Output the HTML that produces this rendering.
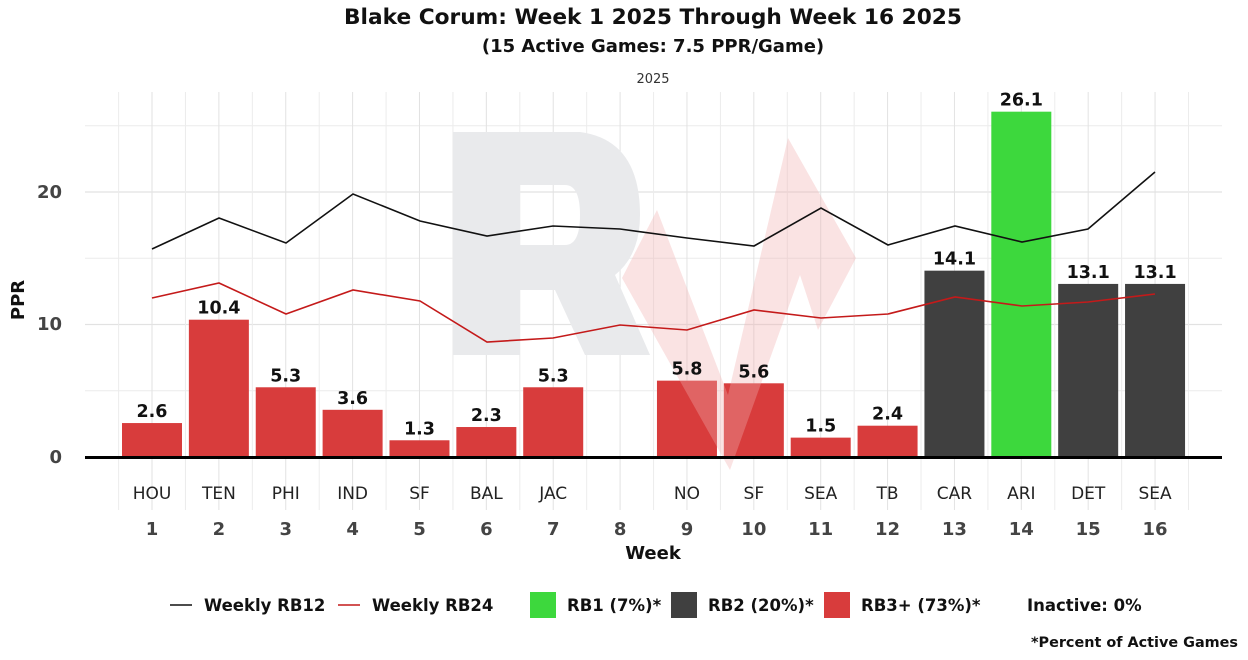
<!DOCTYPE html>
<html><head><meta charset="utf-8"><style>body{margin:0;background:#fff}svg{display:block}text{font-family:"DejaVu Sans","Liberation Sans",sans-serif}</style></head><body>
<svg width="1248" height="660" xmlns="http://www.w3.org/2000/svg">
<rect width="1248" height="660" fill="#fff"/>
<text x="653" y="24" text-anchor="middle" font-size="21.7" font-weight="bold" fill="#111">Blake Corum: Week 1 2025 Through Week 16 2025</text>
<text x="653" y="52" text-anchor="middle" font-size="18" font-weight="bold" fill="#111">(15 Active Games: 7.5 PPR/Game)</text>
<text x="653" y="83" text-anchor="middle" font-size="13" fill="#333">2025</text>
<g stroke="#ececec" stroke-width="1">
<line x1="85" x2="1222" y1="390.75" y2="390.75"/><line x1="85" x2="1222" y1="258.25" y2="258.25"/><line x1="85" x2="1222" y1="125.75" y2="125.75"/>
</g>
<g stroke="#e2e2e2" stroke-width="1.2">
<line x1="85" x2="1222" y1="324.5" y2="324.5"/><line x1="85" x2="1222" y1="192" y2="192"/>
</g>
<g id="vg" stroke="#ececec" stroke-width="1"></g>
<path d="M453,132 H580 Q640,140 640,215 Q640,255 615,275 L650,355 H585 L555,290 H520 V355 H453 Z M520,185 V245 H565 Q580,245 580,215 Q580,185 565,185 Z" fill="#e9eaec" fill-rule="evenodd"/>
<g id="bars"></g>
<polygon points="622,278 657,210 728,395 788,138 856,258 818,330 800,275 730,470" fill="#f2b0b0" opacity="0.35"/>
<g id="lbl"></g>
<polyline fill="none" stroke="#111" stroke-width="1.6" points="152,249 219,218 286,243 353,194 420,221 487,236 553,226 620,229 687,238 754,246 821,208 888,245 955,226 1022,242 1088,229 1155,172"/>
<polyline fill="none" stroke="#c41a1a" stroke-width="1.6" points="152,298 219,283 286,314 353,290 420,301 487,342 553,338 620,325 687,330 754,310 821,318 888,314 955,297 1022,306 1088,302 1155,294"/>
<line x1="85" x2="1222" y1="457.5" y2="457.5" stroke="#000" stroke-width="3"/>
<g font-size="18" font-weight="bold" fill="#444" text-anchor="end">
<text x="62" y="463">0</text><text x="62" y="330">10</text><text x="62" y="198">20</text></g>
<text transform="translate(24,300) rotate(-90)" text-anchor="middle" font-size="18" font-weight="bold" fill="#111">PPR</text>
<text x="653" y="559" text-anchor="middle" font-size="18" font-weight="bold" fill="#111">Week</text>
<g id="xl"></g>
<line x1="170" x2="192" y1="605" y2="605" stroke="#111" stroke-width="1.6"/>
<text x="204" y="611" font-size="16.5" font-weight="bold" fill="#111">Weekly RB12</text>
<line x1="338" x2="360" y1="605" y2="605" stroke="#c41a1a" stroke-width="1.6"/>
<text x="372" y="611" font-size="16.5" font-weight="bold" fill="#111">Weekly RB24</text>
<rect x="530" y="592" width="26" height="26" fill="#3dd83d"/>
<text x="567" y="611" font-size="16.5" font-weight="bold" fill="#111">RB1 (7%)*</text>
<rect x="671" y="592" width="26" height="26" fill="#404040"/>
<text x="708" y="611" font-size="16.5" font-weight="bold" fill="#111">RB2 (20%)*</text>
<rect x="824" y="592" width="26" height="26" fill="#d83c3c"/>
<text x="861" y="611" font-size="16.5" font-weight="bold" fill="#111">RB3+ (73%)*</text>
<text x="1027" y="611" font-size="16.5" font-weight="bold" fill="#111">Inactive: 0%</text>
<text x="1238" y="647" text-anchor="end" font-size="14.4" font-weight="bold" fill="#111">*Percent of Active Games</text>
</svg>
<script>
var ns="http://www.w3.org/2000/svg";
function el(p,t,a,txt){var e=document.createElementNS(ns,t);for(var k in a)e.setAttribute(k,a[k]);if(txt!==undefined)e.textContent=txt;document.getElementById(p).appendChild(e);}
var X=function(w){return 152+(w-1)*66.87;};
for(var i=0;i<=16;i++){var x=X(i+1)-33.4;el("vg","line",{x1:x,x2:x,y1:92,y2:510});}
for(var i=1;i<=16;i++){el("vg","line",{x1:X(i),x2:X(i),y1:92,y2:510,stroke:"#e2e2e2"});}
var v=[2.6,10.4,5.3,3.6,1.3,2.3,5.3,null,5.8,5.6,1.5,2.4,14.1,26.1,13.1,13.1];
var t=["HOU","TEN","PHI","IND","SF","BAL","JAC","","NO","SF","SEA","TB","CAR","ARI","DET","SEA"];
for(var i=0;i<16;i++){var w=i+1,x=X(w);
 if(v[i]!==null){var h=v[i]*13.25,c=w==14?"#3dd83d":(w>=13?"#404040":"#d83c3c");
  el("bars","rect",{x:x-30,y:457.5-h,width:60,height:h,fill:c});
  el("lbl","text",{x:x,y:451.5-h,"text-anchor":"middle","font-size":"17.5","font-weight":"bold",fill:"#111"},v[i].toFixed(1));}
 el("xl","text",{x:x,y:499,"text-anchor":"middle","font-size":"17",fill:"#222"},t[i]);
 el("xl","text",{x:x,y:535,"text-anchor":"middle","font-size":"18","font-weight":"bold",fill:"#444"},String(w));}
</script>
</body></html>
